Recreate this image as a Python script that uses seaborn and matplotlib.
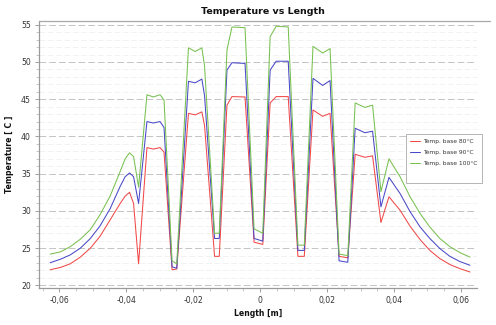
import numpy as np
import pandas as pd
import matplotlib
matplotlib.use("Agg")
import matplotlib.pyplot as plt
from matplotlib.ticker import FixedLocator, MultipleLocator, FixedFormatter
from matplotlib.lines import Line2D
from matplotlib.patches import Rectangle
import seaborn as sns

# Position along the heat sink base [m]
length_m = [
    -0.0627, -0.0597, -0.0567, -0.0537, -0.0507, -0.0478, -0.0448, -0.0418,
    -0.0403, -0.0390, -0.0378, -0.0363,
    -0.0338, -0.0319, -0.0299, -0.0287,
    -0.0263, -0.0249,
    -0.0214, -0.0194, -0.0174, -0.0166,
    -0.0136, -0.0122,
    -0.0099, -0.0084, -0.0045,
    -0.0018, 0.0008,
    0.0030, 0.0048, 0.0084,
    0.0113, 0.0132,
    0.0158, 0.0187, 0.0209,
    0.0236, 0.0262,
    0.0284, 0.0313, 0.0336,
    0.0361, 0.0385,
    0.0418, 0.0448, 0.0478, 0.0507, 0.0537, 0.0567, 0.0597, 0.0627,
]

# Temperatures [C] for the three base temperatures
temp_base_80 = [
    22.1, 22.4, 22.9, 23.8, 25.0, 26.6, 28.8, 31.0,
    32.0, 32.5, 31.0, 22.9,
    38.5, 38.3, 38.5, 37.9,
    22.1, 22.2,
    43.1, 42.9, 43.3, 41.5,
    23.9, 23.9,
    44.2, 45.35, 45.3,
    25.8, 25.5,
    44.5, 45.35, 45.35,
    23.9, 23.9,
    43.55, 42.7, 43.1,
    23.9, 23.7,
    37.6, 37.2, 37.4,
    28.45, 31.9,
    30.1, 27.95, 26.15, 24.7, 23.6, 22.8, 22.25, 21.8,
]
temp_base_90 = [
    23.05, 23.5, 24.1, 25.0, 26.3, 28.0, 30.3, 33.3,
    34.6, 35.1, 34.6, 31.0,
    42.0, 41.8, 42.0, 41.2,
    22.5, 22.3,
    47.4, 47.2, 47.7, 45.5,
    26.3, 26.3,
    48.9, 49.9, 49.8,
    26.3, 25.95,
    48.9, 50.1, 50.1,
    24.7, 24.7,
    47.8, 46.85, 47.5,
    23.3, 23.1,
    41.1, 40.5, 40.7,
    30.55, 34.5,
    32.35, 29.9, 27.85, 26.3, 24.95, 23.9, 23.2, 22.7,
]
temp_base_100 = [
    24.2, 24.5, 25.2, 26.2, 27.5, 29.5, 32.0, 35.3,
    37.0, 37.8, 37.3, 33.2,
    45.6, 45.3, 45.6, 44.9,
    23.3, 22.9,
    51.9, 51.4, 51.9, 49.5,
    27.0, 27.0,
    51.6, 54.7, 54.6,
    27.6, 27.0,
    53.4, 54.8, 54.7,
    25.4, 25.4,
    52.1, 51.2, 51.8,
    24.2, 24.0,
    44.5, 43.9, 44.2,
    32.6, 37.0,
    34.6, 31.9, 29.65, 27.85, 26.3, 25.2, 24.4, 23.8,
]

series_names = ["Temp. base 80°C", "Temp. base 90°C", "Temp. base 100°C"]
series_colors = ["#f04848", "#4848c8", "#78c050"]

x_ticks = [-0.06, -0.04, -0.02, 0.0, 0.02, 0.04, 0.06]
x_tick_labels = ["-0,06", "-0,04", "-0,02", "0", "0,02", "0,04", "0,06"]
y_ticks = [20, 25, 30, 35, 40, 45, 50, 55]
y_tick_labels = ["20", "25", "30", "35", "40", "45", "50", "55"]

df = pd.concat(
    [
        pd.DataFrame({"Length": length_m, "Temperature": vals, "Series": name})
        for name, vals in zip(series_names, [temp_base_80, temp_base_90, temp_base_100])
    ],
    ignore_index=True,
)

sns.set_style("white")
plt.rcParams["font.family"] = ["DejaVu Sans"]

W, H = 496, 325
fig = plt.figure(figsize=(W / 100, H / 100), dpi=100)
ax = fig.add_axes([38.5 / W, 1 - 288 / H, (477 - 38.5) / W, (288 - 21) / H])

sns.lineplot(
    data=df, x="Length", y="Temperature", hue="Series",
    palette=dict(zip(series_names, series_colors)),
    estimator=None, sort=False, linewidth=0.75, ax=ax, legend=False,
)

ax.set_xlim(-0.0662, 0.0648)
ax.set_ylim(19.65, 55.5)

ax.xaxis.set_major_locator(FixedLocator(x_ticks))
ax.xaxis.set_major_formatter(FixedFormatter(x_tick_labels))
ax.xaxis.set_minor_locator(MultipleLocator(0.005))
ax.yaxis.set_major_locator(FixedLocator(y_ticks))
ax.yaxis.set_major_formatter(FixedFormatter(y_tick_labels))
ax.yaxis.set_minor_locator(MultipleLocator(1))

ax.tick_params(axis="both", which="major", length=3, width=0.6, color="#909090",
               labelsize=5.6, labelcolor="#333333", pad=2.5, direction="out")
ax.tick_params(axis="both", which="minor", length=2, width=0.5, color="#b0b0b0",
               direction="out")
ax.tick_params(axis="x", which="both", bottom=True)
ax.tick_params(axis="y", which="both", left=True)

# Horizontal dashed grid
ax.grid(False)
ax.yaxis.grid(True, which="major", linestyle=(0, (7, 3)), color="#c4c4c4", linewidth=0.7)
ax.yaxis.grid(True, which="minor", linestyle=(0, (7, 3)), color="#f0f0f0", linewidth=0.6)
ax.set_axisbelow(True)

for side in ["top", "right"]:
    ax.spines[side].set_visible(False)
for side in ["left", "bottom"]:
    ax.spines[side].set_color("#9a9a9a")
    ax.spines[side].set_linewidth(0.9)

# Separator line under the title
fig.add_artist(Line2D([38.5 / W, 490 / W], [1 - 21 / H, 1 - 21 / H],
                      color="#a8a8a8", linewidth=0.9, transform=fig.transFigure))

fig.text(263 / W, 1 - 12 / H, "Temperature vs Length", ha="center", va="center",
         fontsize=6.8, fontweight="bold", color="#111111")
ax.set_xlabel("Length [m]", fontsize=5.6, fontweight="bold", color="#111111", labelpad=3)
ax.set_ylabel("Temperature [ C ]", fontsize=5.6, fontweight="bold", color="#111111", labelpad=5)

# Legend: entries without frame, box drawn separately
handles = [Line2D([], [], color=c, linewidth=0.75) for c in series_colors]
leg = ax.legend(handles, series_names, loc="upper left",
                bbox_to_anchor=(406 / W, 1 - 135 / H), bbox_transform=fig.transFigure,
                fontsize=4.3, frameon=False,
                handlelength=1.7, handletextpad=0.5, labelspacing=1.0,
                borderpad=0.6, borderaxespad=0)
for t in leg.get_texts():
    t.set_color("#333333")
fig.add_artist(Rectangle((406 / W, 1 - 183 / H), (482 - 406) / W, (183 - 134) / H,
                         transform=fig.transFigure, facecolor="white",
                         edgecolor="#b4b4b4", linewidth=0.7, zorder=2))
leg.set_zorder(3)
fig.add_artist(leg)

fig.savefig("out.png", dpi=100)
